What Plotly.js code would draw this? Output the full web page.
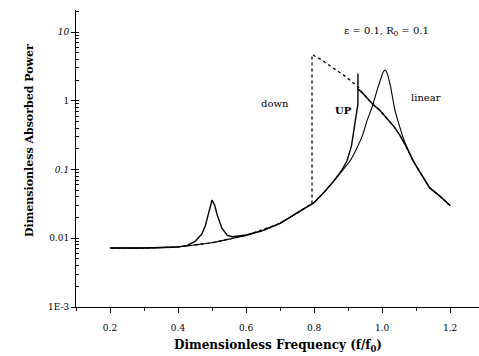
<!DOCTYPE html>
<html><head><meta charset="utf-8">
<script src="https://cdn.plot.ly/plotly-3.0.1.min.js"></script>
<style>html,body{margin:0;padding:0;background:#fff}#chart{width:479px;height:356px}</style>
</head><body><div id="chart"></div>
<script>
// Linear response
const freqLinear = [0.2, 0.3, 0.4, 0.45, 0.5, 0.55, 0.6, 0.65, 0.7, 0.76, 0.8, 0.83, 0.856, 0.88, 0.906, 0.925, 0.944, 0.955, 0.97, 0.985, 0.995, 1.003, 1.009, 1.015, 1.025, 1.038, 1.05, 1.062, 1.075, 1.088, 1.103, 1.12, 1.14, 1.17, 1.2];
const powerLinear = [0.0072, 0.0072, 0.0075, 0.008, 0.0086, 0.0097, 0.011, 0.013, 0.0165, 0.025, 0.033, 0.047, 0.066, 0.092, 0.134, 0.2, 0.33, 0.5, 0.79, 1.4, 2.0, 2.6, 2.8, 2.5, 1.6, 0.72, 0.45, 0.29, 0.2, 0.148, 0.106, 0.078, 0.054, 0.041, 0.03];
// Sweep up
const freqUp = [0.2, 0.3, 0.4, 0.426, 0.45, 0.47, 0.48, 0.491, 0.5, 0.508, 0.515, 0.529, 0.545, 0.56, 0.6, 0.65, 0.7, 0.76, 0.8, 0.83, 0.856, 0.88, 0.897, 0.91, 0.915, 0.922, 0.929, 0.929, 0.929, 0.945, 0.96, 0.975, 0.994, 1.02, 1.035, 1.053, 1.07, 1.091, 1.103, 1.12, 1.14, 1.17, 1.2];
const powerUp = [0.0072, 0.0072, 0.0075, 0.0078, 0.009, 0.0115, 0.015, 0.025, 0.036, 0.03, 0.022, 0.014, 0.011, 0.0105, 0.0112, 0.013, 0.0165, 0.025, 0.033, 0.047, 0.066, 0.095, 0.134, 0.22, 0.33, 0.55, 0.9, 2.5, 1.5, 1.25, 1.03, 0.87, 0.72, 0.51, 0.42, 0.31, 0.22, 0.134, 0.106, 0.078, 0.054, 0.041, 0.03];
// Sweep down
const freqDown = [1.2, 1.17, 1.14, 1.12, 1.103, 1.091, 1.07, 1.053, 1.035, 1.02, 0.994, 0.975, 0.96, 0.945, 0.929, 0.89, 0.856, 0.82, 0.794, 0.794, 0.76, 0.7, 0.6, 0.5, 0.4, 0.3, 0.2];
const powerDown = [0.03, 0.041, 0.054, 0.078, 0.106, 0.134, 0.22, 0.31, 0.42, 0.51, 0.72, 0.87, 1.03, 1.25, 1.6, 2.3, 3.0, 4.0, 4.7, 0.032, 0.025, 0.0165, 0.011, 0.0086, 0.0075, 0.0072, 0.0072];
// Axis ticks
const yTickVals = [0.001, 0.01, 0.1, 1, 10];
const yTickText = ['1E-3', '0.01', '<i>0.1</i>', '1', '<i>10</i>'];
const xTickVals = [0.2, 0.4, 0.6, 0.8, 1.0, 1.2];
const xTickText = ['0.2', '0.4', '0.6', '0.8', '1.0', '1.2'];

const serif = 'DejaVu Serif, Liberation Serif, serif';
const traces = [
  {x: freqLinear, y: powerLinear, mode: 'lines', line: {color: '#000', width: 1.1, shape: 'spline', smoothing: 0.6}, name: 'linear'},
  {x: freqUp, y: powerUp, mode: 'lines', line: {color: '#000', width: 1.4}, name: 'UP'},
  {x: freqDown, y: powerDown, mode: 'lines', line: {color: '#000', width: 1.3, dash: 'dot'}, name: 'down'}
];
function ann(px, py, text, size, extra) {
  return Object.assign({xref: 'paper', yref: 'paper', x: (px - 76) / 403, y: (307 - py) / 297,
    xanchor: 'center', yanchor: 'middle', text: text, showarrow: false,
    font: {family: serif, size: size, color: '#000'}}, extra || {});
}
const layout = {
  width: 479, height: 356,
  margin: {l: 76, r: 0, t: 10, b: 49},
  paper_bgcolor: '#fff', plot_bgcolor: '#fff',
  showlegend: false,
  font: {family: serif, color: '#000', size: 9},
  xaxis: {
    range: [0.1, 1.285], showgrid: false, zeroline: false,
    showline: true, linecolor: '#000', linewidth: 1,
    tickmode: 'array', tickvals: xTickVals, ticktext: xTickText,
    ticks: 'outside', ticklen: 5, tickcolor: '#000',
    ticklabelstandoff: 7,
    minor: {dtick: 0.1, tick0: 0.1, ticks: 'outside', ticklen: 3, tickcolor: '#000'},
    tickfont: {family: serif, size: 9}
  },
  yaxis: {
    type: 'log', range: [-3, 1.32], showgrid: false, zeroline: false,
    showline: true, linecolor: '#000', linewidth: 1,
    tickmode: 'array', tickvals: yTickVals, ticktext: yTickText,
    ticks: 'outside', ticklen: 4, tickcolor: '#000',
    minor: {dtick: 'D1', ticks: 'inside', ticklen: 3, tickcolor: '#000'},
    tickfont: {family: serif, size: 9}
  },
  annotations: [
    ann(29, 141, '<b>Dimensionless Absorbed Power</b>', 11, {textangle: -90}),
    ann(278, 346, '<b>Dimensionless Frequency (f/f<sub>0</sub>)</b>', 12),
    ann(386, 31, 'ε = 0.1, R<sub>0</sub> = 0.1', 10),
    ann(275, 103, 'down', 10),
    ann(343, 110, '<b>UP</b>', 10),
    ann(426, 97, 'linear', 10)
  ]
};
Plotly.newPlot('chart', traces, layout, {staticPlot: true, displayModeBar: false});
</script></body></html>
